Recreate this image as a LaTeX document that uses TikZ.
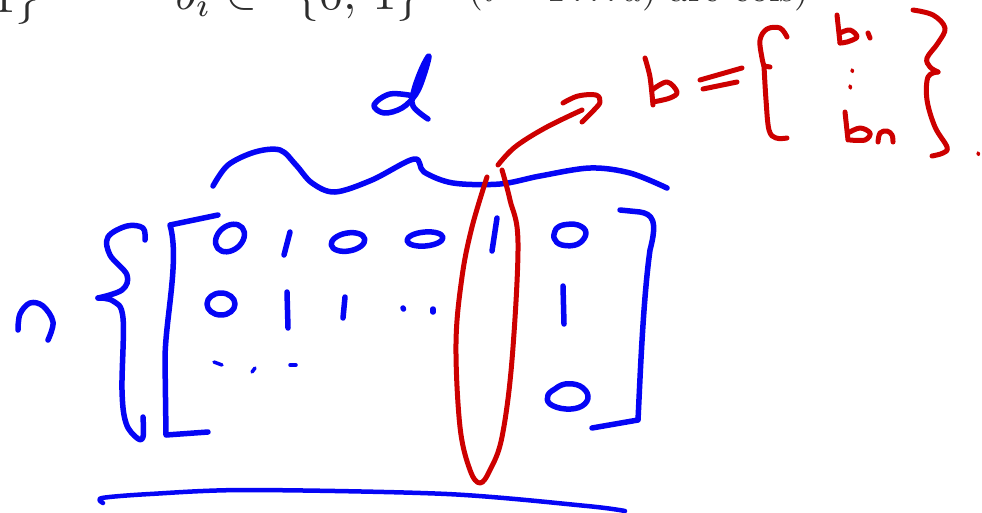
\documentclass[tikz,border=0pt]{standalone}
\usepackage{graphicx}
\usepackage{amssymb}
\definecolor{penblue}{RGB}{5,5,245}
\definecolor{penred}{RGB}{205,0,0}
\definecolor{inkgray}{RGB}{45,45,45}
\newcommand{\bigtop}[1]{\scalebox{4.8}{#1}}
\newcommand{\smalltop}[1]{\scalebox{3.8}{#1}}
\tikzset{
  bluepen/.style={draw=penblue, line width=5.5pt, line cap=round, line join=round},
  redpen/.style={draw=penred, line width=5pt, line cap=round, line join=round},
  toptext/.style={text=inkgray, inner sep=0pt},
}
\begin{document}
\begin{tikzpicture}[x=1pt,y=-1pt]
\useasboundingbox (0,0) rectangle (982,512);
\clip (0,0) rectangle (982,512);
\fill[white] (0,0) rectangle (982,512);
% cut-off text at the top
\node[toptext, anchor=base east] (t1) at (40,12) {\bigtop{$1\}$}};
\node[toptext, anchor=base west] (t2) at (175,9) {\bigtop{$b_i$}};
\node[toptext, anchor=base west] (t3) at (225,8) {\bigtop{$\in$}};
\node[toptext, anchor=base west] (t4) at (295,9) {\bigtop{$\{0,\,1\}$}};
\node[toptext, anchor=base west] (t5) at (468,1) {\smalltop{($i=1\ldots d$) are cols)}};
% d
\draw[bluepen] plot[smooth, tension=0.6] coordinates {(414,96) (390,94) (374,105) (384,113) (402,108) (416,94) (424,75) (429,56) (422,68) (414,90) (413,106) (428,119)};
% overbrace
\draw[bluepen] plot[smooth, tension=0.55] coordinates {(213,186) (228,165) (255,152) (280,150) (296,165) (312,183) (335,192) (372,180) (414,159) (424,172) (453,183) (500,184) (540,176) (590,168) (630,173) (667,188)};
% n
\draw[bluepen] plot[smooth, tension=0.6] coordinates {(18,330) (20,314) (30,303) (43,306) (53,322) (48,340)};
% left brace
\draw[bluepen] plot[smooth, tension=0.6] coordinates {(145,240) (143,228) (127,226) (108,237) (110,255) (127,275) (122,290) (98,298)};
\draw[bluepen] plot[smooth, tension=0.6] coordinates {(98,298) (113,301) (123,318) (122,390) (126,423) (137,438) (143,437) (143,417)};
% left bracket
\draw[bluepen] (218,215) -- (170,225) .. controls (180,260) and (165,320) .. (165,360) -- (166,435) -- (208,432);
% right bracket
\draw[bluepen] (620,210) -- (640,212) .. controls (652,214) and (658,220) .. (650,250) .. controls (643,300) and (640,380) .. (638,420) -- (592,428);
% entries row 1
\draw[bluepen] (230,238) ellipse [x radius=16, y radius=12, rotate=40];
\draw[bluepen] (290,232) -- (284,255);
\draw[bluepen] (348,242) ellipse [x radius=17, y radius=9, rotate=10];
\draw[bluepen] (425,239) ellipse [x radius=18, y radius=7, rotate=5];
\draw[bluepen] (497,218) -- (492,251);
\draw[bluepen] plot[smooth, tension=0.7] coordinates {(556,229) (563,225) (578,225) (586,233) (578,244) (562,245) (554,238) (556,229)};
% entries row 2
\draw[bluepen] (221,304) ellipse [x radius=14, y radius=11];
\draw[bluepen] (287,292) -- (288,328);
\draw[bluepen] (345,297) -- (343,318);
\draw[bluepen] (403,308) -- (403.5,309);
\draw[bluepen] (433,309) -- (433,312);
\draw[bluepen] (563,286) -- (564,324);
% row 3 marks
\draw[bluepen, line width=3.5pt] (214,362) -- (222,365);
\draw[bluepen, line width=3.5pt] (255,368) -- (252,372);
\draw[bluepen, line width=3.5pt] (290,365) -- (296,365);
% last zero
\draw[bluepen] plot[smooth, tension=0.7] coordinates {(555,389) (565,384) (580,386) (588,396) (582,406) (566,409) (550,404) (548,395) (555,389)};
% bottom line
\draw[bluepen, line width=4.5pt] plot[smooth, tension=0.5] coordinates {(103,503) (102,498) (150,494) (247,490) (447,494) (587,506) (625,511)};
% red column loop
\draw[redpen] plot[smooth, tension=0.6] coordinates {(487,177) (472,227) (462,277) (456,343) (460,427) (470,470) (480,483) (490,470) (502,437) (512,360) (518,243) (510,200) (502,170)};
% arrow
\draw[redpen] plot[smooth, tension=0.6] coordinates {(498,165) (515,147) (545,128) (582,110)};
\draw[redpen] plot[smooth, tension=0.6] coordinates {(563,103) (578,96) (596,95) (600,102) (594,110) (582,122)};
% b
\draw[redpen] plot[smooth, tension=0.5] coordinates {(645,58) (650,77) (653,105)};
\draw[redpen] plot[smooth, tension=0.6] coordinates {(652,90) (667,82) (677,92) (670,98) (653,102)};
% =
\draw[redpen] (700,80) -- (742,68);
\draw[redpen] (703,89) -- (737,82);
% left red brace
\draw[redpen] plot[smooth, tension=0.6] coordinates {(787,37) (780,28) (767,29) (760,40) (762,58) (764,66)};
\draw[redpen] (764,66) -- (770,67);
\draw[redpen] plot[smooth, tension=0.6] coordinates {(764,66) (766,100) (769,130) (776,138) (787,138)};
% b1
\draw[redpen] (837,15) -- (840,43);
\draw[redpen] plot[smooth, tension=0.6] coordinates {(840,33) (850,30) (857,37) (847,42) (840,43)};
\draw[redpen] (868,33) -- (870,38);
% vertical dots
\draw[redpen, line width=3.5pt] (852,70) -- (852.5,71.5);
\draw[redpen, line width=3.5pt] (850,86) -- (850.5,88);
% bn
\draw[redpen] (845,112) -- (848,140);
\draw[redpen] plot[smooth, tension=0.6] coordinates {(848,133) (860,128) (870,133) (865,140) (850,140)};
\draw[redpen] plot[smooth, tension=0.6] coordinates {(878,142) (880,133) (887,131) (892,135) (893,142)};
% right red brace
\draw[redpen] plot[smooth, tension=0.6] coordinates {(913,10) (933,15) (945,28) (938,43) (927,58) (930,67) (938,72)};
\draw[redpen] plot[smooth, tension=0.6] coordinates {(938,72) (928,77) (927,100) (935,127) (947,147) (943,153) (932,156)};
% period
\draw[redpen, line width=3.5pt] (978,153) -- (978.5,154.5);
\end{tikzpicture}
\end{document}
